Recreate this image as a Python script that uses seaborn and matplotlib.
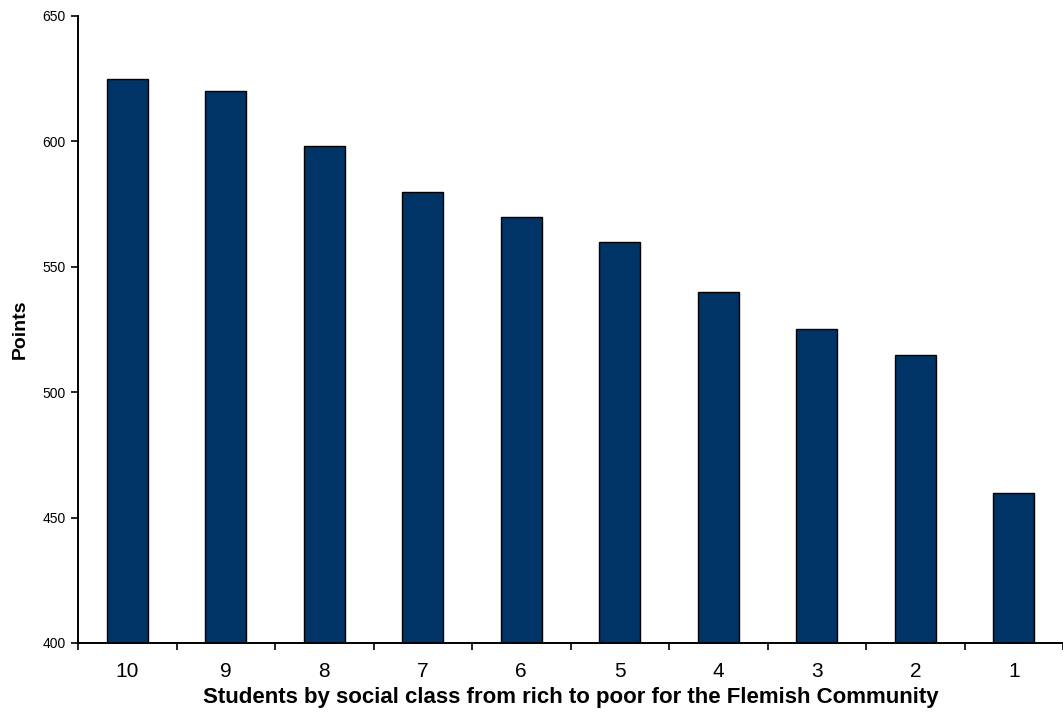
import numpy as np
import pandas as pd
import matplotlib
matplotlib.use("Agg")
import matplotlib.pyplot as plt
import seaborn as sns

# dados
classes = ["10", "9", "8", "7", "6", "5", "4", "3", "2", "1"]
pontos = [625, 620, 598, 580, 570, 560, 540, 525, 515, 460]

df = pd.DataFrame({"classe": classes, "pontos": pontos})

sns.set_theme(style="ticks")
plt.rcParams["font.family"] = ["Liberation Sans", "DejaVu Sans"]
plt.rcParams["text.color"] = "black"
plt.rcParams["axes.labelcolor"] = "black"
plt.rcParams["xtick.color"] = "black"
plt.rcParams["ytick.color"] = "black"

fig = plt.figure(figsize=(10.63, 7.15), dpi=100)
ax = fig.add_axes([0.0734, 0.1007, 0.9266, 0.877])

sns.barplot(data=df, x="classe", y="pontos", order=classes, color="#003366",
            width=0.42, edgecolor="black", linewidth=1.0, saturation=1, ax=ax)

ax.set_ylim(400, 650)
ax.set_xlim(-0.5, len(classes) - 0.5)
ax.set_yticks([400, 450, 500, 550, 600, 650])
ax.tick_params(axis="y", labelsize=10, length=5, width=1.2, direction="out", pad=4)
# rotulos no centro, tracinhos entre as categorias
ax.tick_params(axis="x", which="major", labelsize=15, length=0, pad=14)
ax.set_xticks(np.arange(-0.5, len(classes), 1.0), minor=True)
ax.tick_params(axis="x", which="minor", length=5, width=1.2, direction="out")

for lado in ["top", "right"]:
    ax.spines[lado].set_visible(False)
for lado in ["left", "bottom"]:
    ax.spines[lado].set_linewidth(1.4)
    ax.spines[lado].set_color("black")

ax.set_xlabel("Students by social class from rich to poor for the Flemish Community",
              fontsize=16, fontweight="bold", labelpad=4)
ax.set_ylabel("Points", fontsize=14, fontweight="bold", labelpad=10)

plt.savefig("out.png", dpi=100)
